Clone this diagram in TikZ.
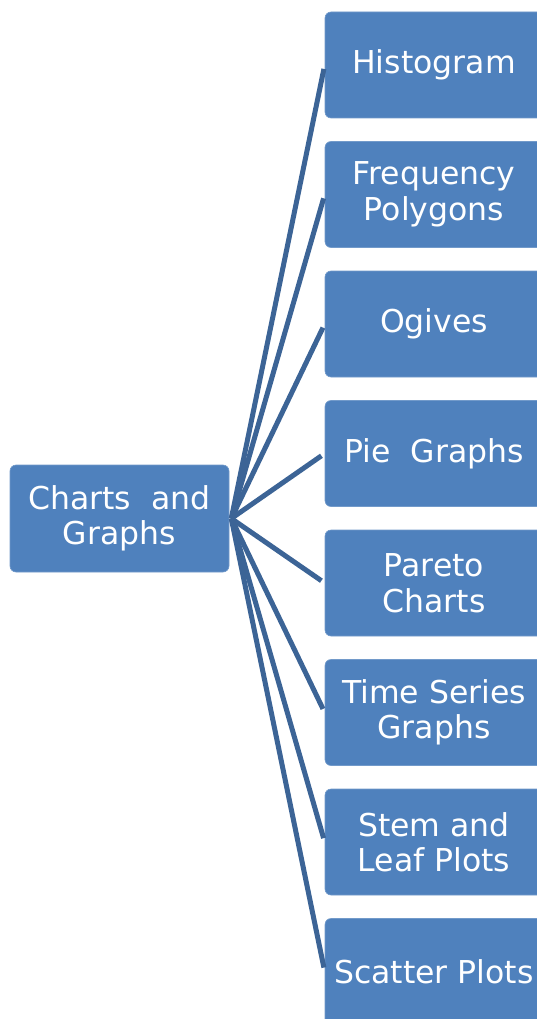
\documentclass[tikz,border=0pt]{standalone}
\usepackage{fontspec}
\setmainfont{DejaVu Sans}
\definecolor{boxblue}{RGB}{79,129,189}
\definecolor{linkblue}{RGB}{60,100,150}
\tikzset{
  box/.style={fill=boxblue, draw=boxblue!80!white, line width=0.6pt, rounded corners=6pt,
    minimum width=218pt, minimum height=106pt, inner sep=0pt, align=center,
    text=white, font=\fontsize{31.5}{35.5}\selectfont},
  link/.style={draw=linkblue, line width=5pt, shorten >=4pt}
}
\begin{document}
\begin{tikzpicture}[x=1pt,y=-1pt]
\useasboundingbox (0,0) rectangle (537,1019);
\clip (0,0) rectangle (537,1019);
\node[box, minimum width=219pt, minimum height=107pt] (root) at (119.5,518.5) {Charts\ \ and\\Graphs};
\node[box] (c1) at (434,65) {Histogram};
\node[box] (c2) at (434,194.5) {Frequency\\Polygons};
\node[box] (c3) at (434,324) {Ogives};
\node[box] (c4) at (434,453.5) {Pie\ \ Graphs};
\node[box] (c5) at (434,583) {Pareto\\Charts};
\node[box] (c6) at (434,712.5) {Time Series\\Graphs};
\node[box] (c7) at (434,842) {Stem and\\Leaf Plots};
\node[box] (c8) at (434,971.5) {Scatter Plots};
\coordinate (hub) at ([xshift=2pt]root.east);
\foreach \i in {1,...,8} {
  \draw[link] (hub) -- (c\i.west);
}
\end{tikzpicture}
\end{document}
